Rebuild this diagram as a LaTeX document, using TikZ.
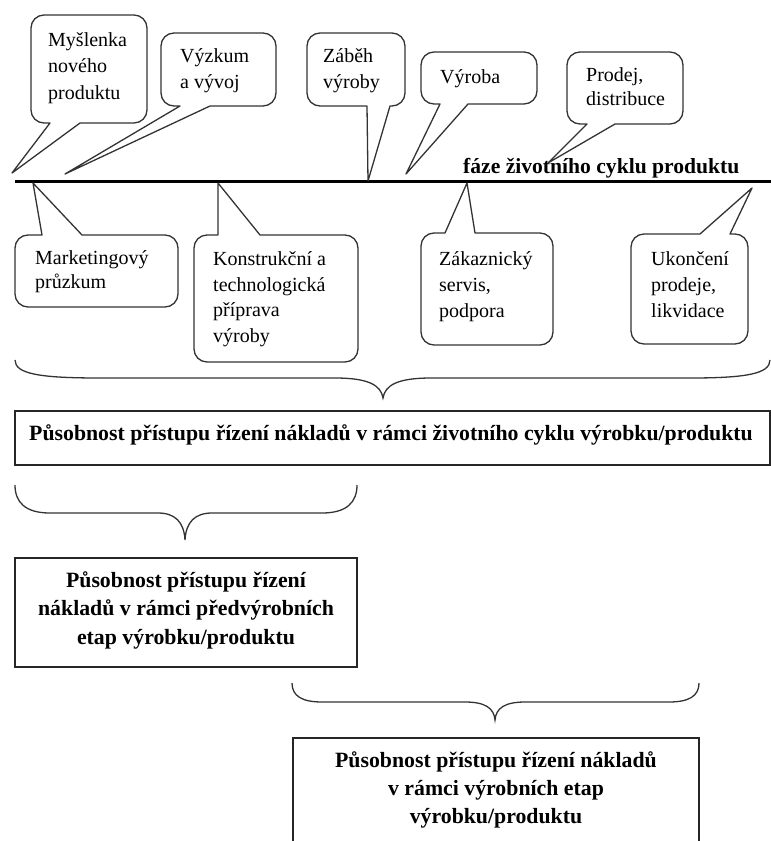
\documentclass[tikz,border=0pt]{standalone}
\usepackage{fontspec}
\setmainfont{Liberation Serif}

% Speech bubble, pointer leaving the bottom edge:
% #1 left, #2 top, #3 right, #4 bottom, #5/#6 pointer base, #7/#8 pointer tip
\newcommand\bubbledown[8]{%
  \draw[callout] (#5,-#4) -- (#7,-#8) -- (#6,-#4) -- ({#3-13},-#4)
    arc[start angle=-90,end angle=0,radius=13pt] -- (#3,{-#2-13})
    arc[start angle=0,end angle=90,radius=13pt] -- ({#1+13},-#2)
    arc[start angle=90,end angle=180,radius=13pt] -- (#1,{-#4+13})
    arc[start angle=180,end angle=270,radius=13pt] -- cycle;}
% Speech bubble, pointer leaving the top edge (same arguments)
\newcommand\bubbleup[8]{%
  \draw[callout] (#6,-#2) -- (#7,-#8) -- (#5,-#2) -- ({#1+13},-#2)
    arc[start angle=90,end angle=180,radius=13pt] -- (#1,{-#4+13})
    arc[start angle=180,end angle=270,radius=13pt] -- ({#3-13},-#4)
    arc[start angle=270,end angle=360,radius=13pt] -- (#3,{-#2-13})
    arc[start angle=0,end angle=90,radius=13pt] -- cycle;}

\begin{document}
% multi-line nodes sit on the baseline of their last line
\begin{tikzpicture}[x=1pt,y=1pt,
  callout/.style={draw=black!80, line width=1.3pt, line join=round},
  bubbletext/.style={anchor=base west, inner sep=0pt, align=left,
    font=\fontsize{20}{25.5}\selectfont},
  boldtext/.style={anchor=base, inner sep=0pt, align=center,
    font=\fontsize{21.8}{28.5}\selectfont\bfseries},
  brace/.style={draw=black!80, line width=1.3pt},
  frame/.style={draw=black!85, line width=1.3pt, inner sep=0pt}]

\useasboundingbox (0,0) rectangle (771,-841);
\clip (0,0) rectangle (771,-841);

% time axis of the product life cycle
\coordinate (axisL) at (15,-181);
\coordinate (axisR) at (775,-181);
\draw[line width=3pt] (axisL) -- (axisR);
\node[anchor=base west, inner sep=0pt, font=\fontsize{21.6}{26}\selectfont\bfseries]
  (phase) at (463,-173) {fáze životního cyklu produktu};

% phases above the axis
\bubbledown{31}{15}{147}{123}{50}{80}{12}{173}
\node[bubbletext, font=\fontsize{20}{26.5}\selectfont] (idea) at (48,-99) {Myšlenka\\nového\\produktu};
\bubbledown{161}{33}{276}{106}{180}{210}{65}{174}
\node[bubbletext] (research) at (180,-88) {Výzkum\\a vývoj};
\bubbledown{307}{33}{405}{106}{367}{390}{368}{181}
\node[bubbletext] (rampup) at (323,-88) {Záběh\\výroby};
\bubbledown{421}{52}{537}{104}{440}{468}{406}{174}
\node[bubbletext] (production) at (440,-83) {Výroba};
\bubbledown{567}{52}{683}{124}{587}{615}{548}{163}
\node[bubbletext, font=\fontsize{20}{23.5}\selectfont] (sales) at (586,-105) {Prodej,\\distribuce};

% phases below the axis
\bubbleup{15}{235}{178}{307}{42}{82}{33}{183}
\node[bubbletext, font=\fontsize{20}{23.5}\selectfont] (marketing) at (35,-288) {Marketingový\\průzkum};
\bubbleup{194}{235}{358}{362}{218}{260}{218}{183}
\node[bubbletext] (design) at (213,-342) {Konstrukční a\\technologická\\příprava\\výroby};
\bubbleup{421}{233}{553}{345}{445}{475}{467}{183}
\node[bubbletext, font=\fontsize{20}{26}\selectfont] (service) at (439,-317) {Zákaznický\\servis,\\podpora};
\bubbleup{631}{234}{748}{344}{700}{730}{752}{188}
\node[bubbletext, font=\fontsize{20}{26}\selectfont] (disposal) at (651,-317) {Ukončení\\prodeje,\\likvidace};

% whole life cycle
\draw[brace] (15,-360) .. controls (15,-374) and (40,-378) .. (100,-378)
  -- (335,-378) .. controls (368,-378) and (381,-385) .. (383,-398)
  .. controls (385,-385) and (398,-378) .. (431,-378)
  -- (690,-378) .. controls (745,-378) and (770,-374) .. (770,-360);
\node[frame, minimum width=755, minimum height=54] (whole) at (392.5,-438) {};
\node[boldtext] (wholetext) at (391,-440)
  {Působnost přístupu řízení nákladů v rámci životního cyklu výrobku/produktu};

% pre-production stages
\draw[brace] (15,-485) .. controls (15,-502) and (25,-513) .. (50,-513)
  -- (158,-513) .. controls (175,-513) and (184,-522) .. (185,-540)
  .. controls (186,-522) and (195,-513) .. (212,-513)
  -- (322,-513) .. controls (347,-513) and (357,-502) .. (357,-485);
\node[frame, minimum width=342, minimum height=109] (pre) at (186,-612.5) {};
\node[boldtext] (pretext) at (186,-644)
  {Působnost přístupu řízení\\nákladů v rámci předvýrobních\\etap výrobku/produktu};

% production stages
\draw[brace] (292,-683) .. controls (292,-696) and (302,-702) .. (322,-702)
  -- (465,-702) .. controls (485,-702) and (494,-708) .. (495,-720)
  .. controls (496,-708) and (505,-702) .. (525,-702)
  -- (669,-702) .. controls (689,-702) and (699,-696) .. (699,-683);
\node[frame, minimum width=406, minimum height=140] (prod) at (496,-808) {};
\node[boldtext, font=\fontsize{21.8}{28}\selectfont\bfseries] (prodtext) at (496,-823)
  {Působnost přístupu řízení nákladů\\v rámci výrobních etap\\výrobku/produktu};
\end{tikzpicture}
\end{document}
